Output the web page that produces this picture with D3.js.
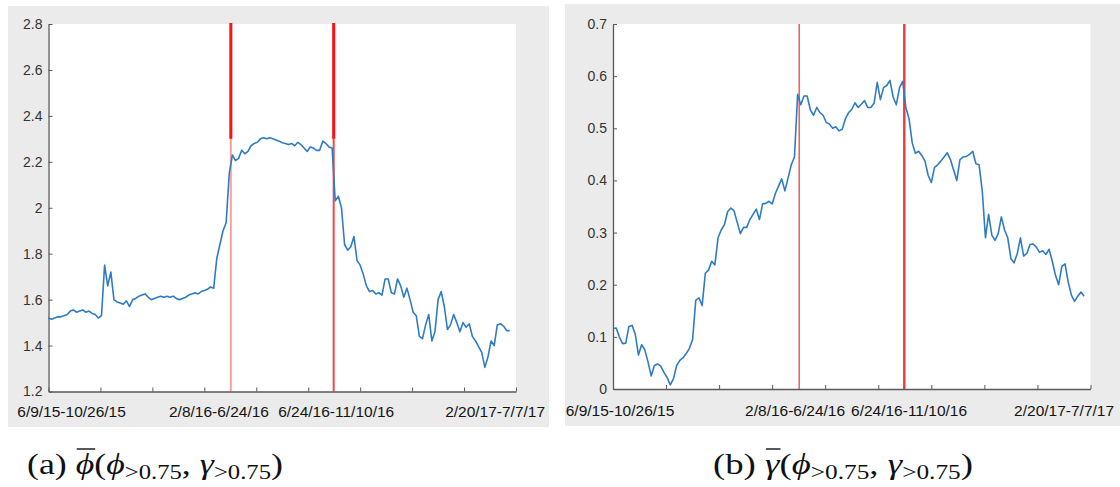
<!DOCTYPE html>
<html>
<head>
<meta charset="utf-8">
<script src="https://cdn.jsdelivr.net/npm/d3@7/dist/d3.min.js"></script>
<style>
  html, body { margin: 0; padding: 0; background: #ffffff; }
  svg { display: block; }
</style>
</head>
<body>
<svg id="fig" width="1120" height="487"></svg>
<script>
// Sample index runs along the x axis; the axis spans AXIS_LEN samples split into 9 tick intervals.
const AXIS_LEN = 150;
const TICK_INTERVALS = 9;

// Period labels under each x axis
const periodLabels = ["6/9/15-10/26/15", "2/8/16-6/24/16", "6/24/16-11/10/16", "2/20/17-7/7/17"];

// Mean phi of the selected pairs, one value per sample
const phiValues = [
  1.52, 1.515, 1.52, 1.525, 1.525, 1.53, 1.535, 1.55, 1.555, 1.545,
  1.55, 1.555, 1.545, 1.55, 1.54, 1.535, 1.52, 1.53, 1.75, 1.66,
  1.72, 1.60, 1.59, 1.585, 1.58, 1.595, 1.57, 1.60, 1.605, 1.615,
  1.62, 1.625, 1.61, 1.60, 1.605, 1.61, 1.615, 1.61, 1.615, 1.61,
  1.615, 1.605, 1.60, 1.605, 1.61, 1.62, 1.625, 1.63, 1.625, 1.635,
  1.64, 1.645, 1.655, 1.65, 1.78, 1.84, 1.90, 1.935, 2.15, 2.23,
  2.205, 2.215, 2.25, 2.235, 2.245, 2.27, 2.28, 2.285, 2.30, 2.305,
  2.30, 2.305, 2.30, 2.295, 2.29, 2.283, 2.28, 2.275, 2.28, 2.27,
  2.285, 2.275, 2.26, 2.245, 2.265, 2.26, 2.25, 2.25, 2.29, 2.28,
  2.265, 2.26, 2.03, 2.05, 2.00, 1.84, 1.815, 1.83, 1.875, 1.77,
  1.75, 1.71, 1.66, 1.635, 1.64, 1.625, 1.63, 1.62, 1.69, 1.69,
  1.63, 1.625, 1.69, 1.66, 1.61, 1.65, 1.60, 1.545, 1.53, 1.44,
  1.43, 1.49, 1.535, 1.42, 1.46, 1.60, 1.635, 1.57, 1.47, 1.49,
  1.535, 1.50, 1.46, 1.50, 1.48, 1.495, 1.44, 1.42, 1.395, 1.37,
  1.305, 1.35, 1.42, 1.40, 1.49, 1.495, 1.485, 1.465, 1.465
];

// Mean gamma of the selected pairs, one value per sample
const gammaValues = [
  0.116, 0.117, 0.100, 0.087, 0.088, 0.120, 0.122, 0.105, 0.065, 0.085,
  0.075, 0.052, 0.025, 0.045, 0.048, 0.044, 0.032, 0.022, 0.008, 0.020,
  0.045, 0.055, 0.060, 0.068, 0.078, 0.095, 0.170, 0.175, 0.160, 0.222,
  0.228, 0.245, 0.238, 0.290, 0.305, 0.315, 0.340, 0.347, 0.342, 0.320,
  0.298, 0.310, 0.310, 0.325, 0.335, 0.345, 0.325, 0.355, 0.356, 0.360,
  0.355, 0.375, 0.389, 0.403, 0.380, 0.405, 0.430, 0.445, 0.565, 0.545,
  0.562, 0.562, 0.535, 0.525, 0.540, 0.530, 0.525, 0.511, 0.508, 0.500,
  0.503, 0.495, 0.498, 0.518, 0.530, 0.536, 0.549, 0.540, 0.546, 0.553,
  0.540, 0.540, 0.548, 0.588, 0.555, 0.578, 0.582, 0.592, 0.560, 0.545,
  0.578, 0.590, 0.540, 0.518, 0.472, 0.452, 0.456, 0.448, 0.437, 0.410,
  0.396, 0.425, 0.430, 0.437, 0.445, 0.453, 0.440, 0.420, 0.400, 0.440,
  0.445, 0.446, 0.450, 0.456, 0.432, 0.430, 0.380, 0.290, 0.335, 0.295,
  0.285, 0.298, 0.330, 0.305, 0.290, 0.250, 0.242, 0.260, 0.290, 0.255,
  0.260, 0.277, 0.278, 0.272, 0.262, 0.265, 0.258, 0.268, 0.245, 0.218,
  0.200, 0.235, 0.240, 0.205, 0.180, 0.168, 0.178, 0.186, 0.178
];

// Y tick values
const phiTicks = [1.2, 1.4, 1.6, 1.8, 2.0, 2.2, 2.4, 2.6, 2.8];
const gammaTicks = [0, 0.1, 0.2, 0.3, 0.4, 0.5, 0.6, 0.7];

// Sample positions of the two regime-change markers
const markerSamples = [58.5, 91.5];

// Layout of the two panels
const panels = [
  {
    values: phiValues, ticks: phiTicks, domain: [1.2, 2.8],
    frame: { x: 8, y: 6, w: 541, h: 421 },
    plot: { left: 48.5, right: 516, top: 24, bottom: 391.5 },
    labelAt: [7.4, 54.7, 92.3, 143.3], labelY: 416.5,
    markers: [
      { split: 2.3, upper: { color: "#ff1010", width: 3 }, lower: { color: "#f7a0a0", width: 2 } },
      { split: 2.3, upper: { color: "#ff1010", width: 3 }, lower: { color: "#f04848", width: 2 } }
    ],
    caption: { x: 27, width: 256, sym: "\u03d5", tag: "(a)" }
  },
  {
    values: gammaValues, ticks: gammaTicks, domain: [0, 0.7],
    frame: { x: 565, y: 4, w: 555, h: 422 },
    plot: { left: 613, right: 1090.5, top: 24, bottom: 389 },
    labelAt: [2.2, 57.2, 93, 141.7], labelY: 415.5,
    markers: [
      { split: null, upper: { color: "#f26060", width: 1.6 } },
      { split: null, upper: { color: "#ee3a3a", width: 2.4 } }
    ],
    caption: { x: 713, width: 260, sym: "\u03b3", tag: "(b)" }
  }
];

const svg = d3.select("#fig");

panels.forEach(p => {
  const g = svg.append("g");

  g.append("rect")
    .attr("x", p.frame.x).attr("y", p.frame.y)
    .attr("width", p.frame.w).attr("height", p.frame.h)
    .attr("fill", "#ebebeb");

  g.append("rect")
    .attr("x", p.plot.left).attr("y", p.plot.top)
    .attr("width", p.plot.right - p.plot.left)
    .attr("height", p.plot.bottom - p.plot.top)
    .attr("fill", "#ffffff");

  const x = d3.scaleLinear().domain([0, AXIS_LEN]).range([p.plot.left, p.plot.right]);
  const y = d3.scaleLinear().domain(p.domain).range([p.plot.bottom, p.plot.top]);

  // regime markers
  markerSamples.forEach((s, k) => {
    const m = p.markers[k];
    const xm = x(s);
    if (m.split === null) {
      g.append("line")
        .attr("x1", xm).attr("x2", xm)
        .attr("y1", y(p.domain[1])).attr("y2", y(p.domain[0]))
        .attr("stroke", m.upper.color).attr("stroke-width", m.upper.width);
    } else {
      g.append("line")
        .attr("x1", xm).attr("x2", xm)
        .attr("y1", y(m.split)).attr("y2", y(p.domain[0]))
        .attr("stroke", m.lower.color).attr("stroke-width", m.lower.width);
      g.append("line")
        .attr("x1", xm).attr("x2", xm)
        .attr("y1", y(p.domain[1]) - 1).attr("y2", y(m.split))
        .attr("stroke", m.upper.color).attr("stroke-width", m.upper.width);
    }
  });

  // series
  const line = d3.line()
    .x((d, i) => x(i))
    .y(d => y(d));
  g.append("path")
    .datum(p.values)
    .attr("d", line)
    .attr("fill", "none")
    .attr("stroke", "#2f7cc6")
    .attr("stroke-width", 1.6)
    .attr("stroke-linejoin", "round");

  // x axis: inward ticks, labels placed per period
  const xTicks = d3.range(TICK_INTERVALS + 1).map(k => k * AXIS_LEN / TICK_INTERVALS);
  const xAxis = d3.axisBottom(x).tickValues(xTicks).tickSize(-4).tickSizeOuter(0).tickFormat("");
  const gx = g.append("g").attr("transform", `translate(0,${p.plot.bottom})`).call(xAxis);
  gx.select(".domain").attr("stroke", "#5a5a5a").attr("stroke-width", 1.3);
  gx.selectAll(".tick line").attr("stroke", "#5a5a5a").attr("stroke-width", 1);

  // y axis
  const yAxis = d3.axisLeft(y).tickValues(p.ticks).tickSize(-4).tickSizeOuter(0)
    .tickPadding(6).tickFormat(d => d3.format("")(+d.toFixed(2)));
  const gy = g.append("g").attr("transform", `translate(${p.plot.left},0)`).call(yAxis);
  gy.select(".domain").attr("stroke", "#5a5a5a").attr("stroke-width", 1.3);
  gy.selectAll(".tick line").attr("stroke", "#5a5a5a").attr("stroke-width", 1);
  gy.selectAll(".tick text")
    .attr("font-family", "Liberation Sans, Arial, sans-serif")
    .attr("font-size", 14)
    .attr("fill", "#333");

  g.selectAll("text.period")
    .data(periodLabels)
    .join("text")
    .attr("class", "period")
    .attr("x", (d, i) => x(p.labelAt[i]))
    .attr("y", p.labelY)
    .attr("text-anchor", "middle")
    .attr("font-family", "Liberation Sans, Arial, sans-serif")
    .attr("font-size", 15.5)
    .attr("fill", "#141414")
    .text(d => d);

  // caption, e.g. (a) \bar{phi}(phi_{>0.75}, gamma_{>0.75})
  const cap = g.append("text")
    .attr("x", p.caption.x).attr("y", 474)
    .attr("font-family", "Liberation Serif, DejaVu Serif, serif")
    .attr("font-size", 29)
    .attr("fill", "#111")
    .attr("textLength", p.caption.width)
    .attr("lengthAdjust", "spacingAndGlyphs");
  cap.append("tspan").text(p.caption.tag + " ");
  const barred = cap.append("tspan").attr("font-style", "italic").text(p.caption.sym);
  cap.append("tspan").text("(");
  cap.append("tspan").attr("font-style", "italic").text("\u03d5");
  cap.append("tspan").attr("font-size", 20).attr("dy", 5).text(">0.75");
  cap.append("tspan").attr("dy", -5).text(", ");
  cap.append("tspan").attr("font-style", "italic").text("\u03b3");
  cap.append("tspan").attr("font-size", 20).attr("dy", 5).text(">0.75");
  cap.append("tspan").attr("dy", -5).text(")");

  // overline above the barred symbol
  const n = barred.node();
  const start = n.getStartPositionOfChar(0);
  const end = n.getEndPositionOfChar(0);
  g.append("line")
    .attr("x1", start.x + 1).attr("x2", end.x + 1)
    .attr("y1", 449).attr("y2", 449)
    .attr("stroke", "#111").attr("stroke-width", 1.4);
});
</script>
</body>
</html>
